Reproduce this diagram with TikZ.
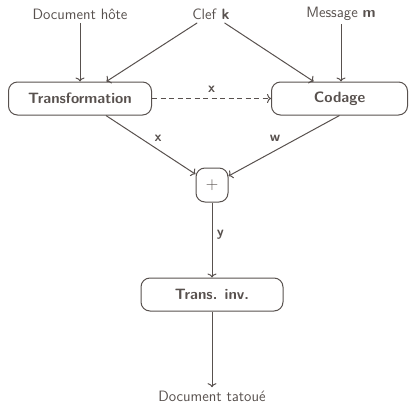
\documentclass[tikz,border=0pt]{standalone}
\usepackage{fontspec}
\usetikzlibrary{arrows.meta}
\definecolor{ink}{RGB}{88,81,78}
\begin{document}
\begin{tikzpicture}[x=1pt,y=-1pt,
  every node/.style={font=\sffamily\fontsize{15}{18}\selectfont, text=ink},
  box/.style={draw=ink, rounded corners=9pt, line width=1pt, minimum height=33pt, inner sep=3pt,
    font=\sffamily\bfseries\fontsize{15}{18}\selectfont},
  conn/.style={draw=ink, line width=1pt, -{To[length=4pt,width=9pt]}},
  dashline/.style={dash pattern=on 5pt off 3.5pt},
  lab/.style={font=\sffamily\bfseries\fontsize{14}{16}\selectfont}]
\useasboundingbox (0,0) rectangle (409,404);
\node (doc) at (80,14) {Document hôte};
\node (clef) at (211,14) {Clef \textbf{k}};
\node (msg) at (341,14) {Message \textbf{m}};
\node[box, minimum width=143pt] (trans) at (80,98.5) {Transformation};
\node[box, minimum width=136pt] (cod) at (339.5,98.5) {Codage};
\node[box, minimum width=32pt, minimum height=34pt, font=\sffamily\fontsize{17}{20}\selectfont] (plus) at (212,185) {$+$};
\node[box, minimum width=142pt] (inv) at (212,294.5) {Trans. inv.};
\node (out) at (212,396) {Document tatoué};
\draw[conn] (doc) -- (trans);
\draw[conn] (clef) -- (trans);
\draw[conn] (clef) -- (cod);
\draw[conn] (msg) -- (msg |- cod.north);
\draw[conn, dashline] (trans) -- node[lab, above=2pt] {x} (cod);
\draw[conn] (trans) -- node[lab, above right=0pt, pos=0.5] {x} (plus);
\draw[conn] (cod.south) -- node[lab, above left=0pt, pos=0.5] {w} (plus);
\draw[conn] (plus) -- node[lab, right=1pt, pos=0.43] {y} (inv);
\draw[conn] (inv) -- (out);
\end{tikzpicture}
\end{document}
